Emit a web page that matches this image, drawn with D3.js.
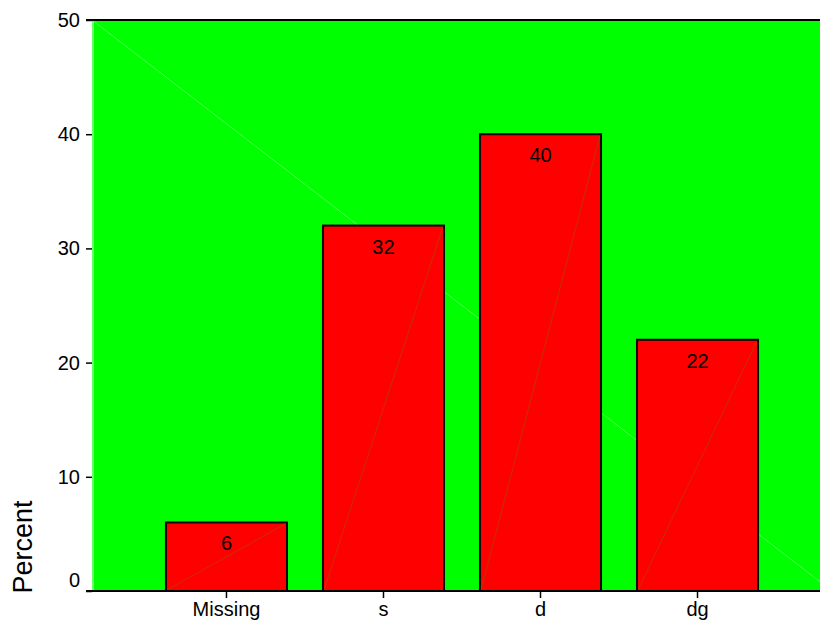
<!DOCTYPE html>
<html>
<head>
<meta charset="utf-8">
<script src="https://cdn.jsdelivr.net/npm/d3@7"></script>
<style>
  html, body { margin: 0; padding: 0; background: #fff; }
  svg text { font-family: Arial, "Liberation Sans", sans-serif; fill: #000; }
</style>
</head>
<body>
<svg id="chart" width="820" height="624"></svg>
<script>
const categories = ["Missing", "s", "d", "dg"];
const percentValues = [6, 32, 40, 22];
const valueLabels = ["6", "32", "40", "22"];
const yTickValues = [0, 10, 20, 30, 40, 50];

const svg = d3.select("#chart");
const plot = { left: 92, right: 832, top: 20, bottom: 591 };
const FONT = "Arial, 'Liberation Sans', sans-serif";

const x = d3.scaleBand()
  .domain(categories)
  .range([plot.left, plot.right])
  .paddingInner(0.229)
  .paddingOuter(0.471);

const y = d3.scaleLinear()
  .domain([0, 50])
  .range([plot.bottom, plot.top]);

// plot background
svg.append("rect")
  .attr("x", plot.left).attr("y", plot.top)
  .attr("width", plot.right - plot.left).attr("height", plot.bottom - plot.top)
  .attr("fill", "#00ff00");

// light left edge
svg.append("line")
  .attr("x1", plot.left + 1).attr("x2", plot.left + 1)
  .attr("y1", plot.top).attr("y2", plot.bottom)
  .attr("stroke", "#66ff66").attr("stroke-width", 2);

// background diagonal
svg.append("line")
  .attr("x1", plot.left).attr("y1", plot.top)
  .attr("x2", plot.right).attr("y2", plot.bottom)
  .attr("stroke", "#7fff7f").attr("stroke-width", 0.6);

// bars
const bars = svg.append("g");
bars.selectAll("rect")
  .data(percentValues)
  .join("rect")
  .attr("x", (d, i) => x(categories[i]))
  .attr("y", d => y(d))
  .attr("width", x.bandwidth())
  .attr("height", d => y(0) - y(d))
  .attr("fill", "#ff0000")
  .attr("stroke", "#000")
  .attr("stroke-width", 2);

bars.selectAll("line")
  .data(percentValues)
  .join("line")
  .attr("x1", (d, i) => x(categories[i]) + 1)
  .attr("y1", y(0) - 1)
  .attr("x2", (d, i) => x(categories[i]) + x.bandwidth() - 1)
  .attr("y2", d => y(d) + 1)
  .attr("stroke", "#a05000")
  .attr("stroke-width", 0.6);

bars.selectAll("text")
  .data(percentValues)
  .join("text")
  .attr("x", (d, i) => x(categories[i]) + x.bandwidth() / 2)
  .attr("y", d => y(d) + 28)
  .attr("text-anchor", "middle")
  .attr("font-size", 20)
  .text((d, i) => valueLabels[i]);

// top frame line
svg.append("line")
  .attr("x1", plot.left - 6).attr("x2", plot.right)
  .attr("y1", plot.top).attr("y2", plot.top)
  .attr("stroke", "#000").attr("stroke-width", 2);

// y axis
const yAxis = d3.axisLeft(y).tickValues(yTickValues).tickSize(6).tickPadding(6);
const gy = svg.append("g")
  .attr("transform", `translate(${plot.left},0)`)
  .call(yAxis);
gy.select(".domain").remove();
gy.selectAll(".tick line").attr("stroke", "#000").attr("stroke-width", 1.5);
gy.selectAll(".tick text")
  .attr("font-size", 20)
  .attr("font-family", FONT)
  .attr("fill", "#000")
  .attr("dy", d => d === 0 ? "-0.25em" : "0.32em");

// x axis
const xAxis = d3.axisBottom(x).tickSize(7).tickPadding(4).tickSizeOuter(0);
const gx = svg.append("g")
  .attr("transform", `translate(0,${plot.bottom})`)
  .call(xAxis);
gx.select(".domain")
  .attr("d", `M${plot.left - 6},0H${plot.right}`)
  .attr("stroke", "#000").attr("stroke-width", 2);
gx.selectAll(".tick line").attr("stroke", "#000").attr("stroke-width", 1.5);
gx.selectAll(".tick text")
  .attr("font-size", 20)
  .attr("font-family", FONT)
  .attr("fill", "#000");

// y axis title
svg.append("text")
  .attr("transform", `translate(32,547) rotate(-90)`)
  .attr("text-anchor", "middle")
  .attr("font-size", 27)
  .text("Percent");
</script>
</body>
</html>
